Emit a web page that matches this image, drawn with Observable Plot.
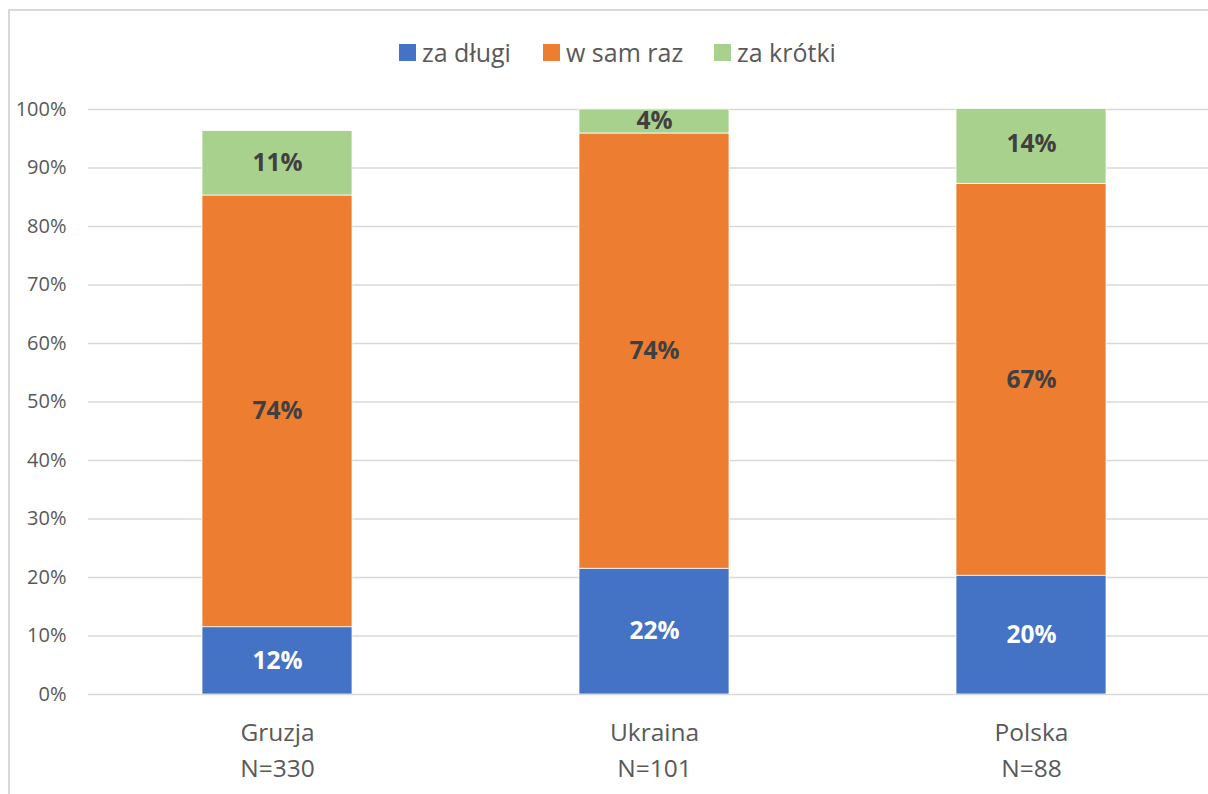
<!DOCTYPE html>
<html>
<head>
<meta charset="utf-8">
<script src="https://cdn.jsdelivr.net/npm/d3@7"></script>
<script src="https://cdn.jsdelivr.net/npm/@observablehq/plot@0.6"></script>
<style>
  html, body { margin: 0; padding: 0; overflow: hidden; background: #fff; width: 1208px; height: 794px; }
  body { position: relative; font-family: "Open Sans", sans-serif; }
  #frame { position: absolute; left: 8px; top: 9px; width: 1400px; height: 1000px; border: 2px solid #D9D9D9; box-sizing: border-box; pointer-events: none; }
  #legend { position: relative; height: 90px; }
  .item { position: absolute; top: 37px; height: 30px; display: flex; align-items: center; font-size: 25px; color: #595959; white-space: nowrap; }
  .sw { width: 17px; height: 17px; margin-right: 6px; }
  #chart { width: 1240px; }
  #chart svg { display: block; overflow: visible; max-width: none !important; }
</style>
</head>
<body>
<div id="frame"></div>
<div id="legend"></div>
<div id="chart"></div>
<script>
const categories = ["Gruzja", "Ukraina", "Polska"];
const sampleSizes = ["N=330", "N=101", "N=88"];
const seriesNames = ["za długi", "w sam raz", "za krótki"];
const zaDlugi = [11.5, 21.5, 20.3];
const wSamRaz = [73.8, 74.4, 67.0];
const zaKrotki = [11.0, 4.1, 13.6];
const seriesColors = ["#4472C4", "#ED7D31", "#A9D18E"];
const yTicks = [0, 10, 20, 30, 40, 50, 60, 70, 80, 90, 100];
const legendLeft = [399, 543, 714];

const seriesValues = [zaDlugi, wSamRaz, zaKrotki];
const rows = [];
categories.forEach((cat, i) => {
  let acc = 0;
  seriesNames.forEach((s, j) => {
    const v = seriesValues[j][i];
    rows.push({cat, series: s, value: v, y1: acc, y2: acc + v});
    acc += v;
  });
});

// legend
const legend = document.getElementById("legend");
seriesNames.forEach((s, j) => {
  const it = document.createElement("div");
  it.className = "item";
  it.style.left = legendLeft[j] + "px";
  const sw = document.createElement("div");
  sw.className = "sw";
  sw.style.background = seriesColors[j];
  it.appendChild(sw);
  const t = document.createElement("span");
  t.textContent = s;
  it.appendChild(t);
  legend.appendChild(it);
});

const chart = Plot.plot({
  width: 1240,
  height: 704,
  marginTop: 19,
  marginBottom: 100,
  marginLeft: 88,
  marginRight: 20,
  style: {fontFamily: "Open Sans", background: "transparent", maxWidth: "none"},
  x: {domain: categories, paddingInner: 0.602, paddingOuter: 0.301},
  y: {domain: [0, 100]},
  color: {domain: seriesNames, range: seriesColors},
  marks: [
    Plot.gridY(yTicks, {stroke: "#D9D9D9", strokeOpacity: 1, strokeWidth: 1.5}),
    Plot.barY(rows, {x: "cat", y1: "y1", y2: "y2", fill: "series", stroke: "white", strokeWidth: 0.75, clip: true}),
    Plot.text(rows.filter(d => d.series === seriesNames[0]), {x: "cat", y: d => (d.y1 + d.y2) / 2, text: d => Math.round(d.value) + "%", fill: "white", fontWeight: "bold", fontSize: 24.5}),
    Plot.text(rows.filter(d => d.series !== seriesNames[0]), {x: "cat", y: d => (d.y1 + d.y2) / 2, text: d => Math.round(d.value) + "%", fill: "#404040", fontWeight: "bold", fontSize: 24.5}),
    Plot.axisY(yTicks, {tickSize: 0, tickPadding: 22, tickFormat: d => d + "%", fontSize: 20, fill: "#595959", label: null}),
    Plot.axisX({tickSize: 0, tickPadding: 21, tickFormat: d => d + "\n" + sampleSizes[categories.indexOf(d)], fontSize: 24.5, lineHeight: 1.47, fill: "#595959", label: null})
  ]
});
document.getElementById("chart").appendChild(chart);
</script>
</body>
</html>
